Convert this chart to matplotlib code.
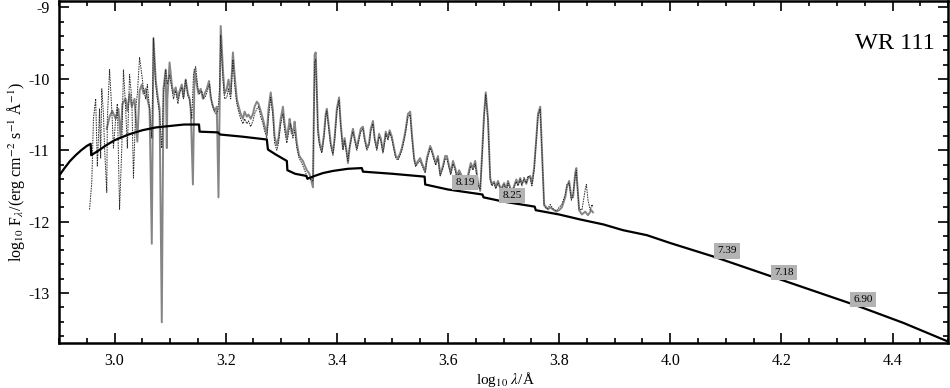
import matplotlib
matplotlib.use("Agg")
import matplotlib.pyplot as plt
from matplotlib.ticker import MultipleLocator

plt.rcParams['font.family'] = ['Liberation Serif', 'DejaVu Serif']
plt.rcParams['mathtext.fontset'] = 'stix'

# ---------------- data ----------------
# observed spectrum (grey solid)
obs_x = [2.986,2.991,2.996,3.002,3.007,3.011,3.014,3.020,3.023,3.027,3.031,3.036,3.041,3.045,3.049,3.052,3.056,3.059,3.063,3.067,
         3.070,3.074,3.077,3.081,3.085,3.088,3.092,3.094,3.095,3.099,3.103,3.106,3.110,3.114,3.117,3.121,3.124,3.128,3.132,3.135,
         3.137,3.141,3.144,3.148,3.151,3.155,3.159,3.162,3.166,3.170,3.173,3.177,3.180,3.184,3.187,3.191,3.195,3.198,3.202,3.205,
         3.209,3.213,3.216,3.220,3.223,3.227,3.231,3.234,3.238,3.241,3.245,3.249,3.252,3.256,3.259,3.263,3.267,3.270,3.274,3.277,
         3.281,3.285,3.288,3.292,3.295,3.299,3.303,3.306,3.310,3.314,3.315,3.319,3.323,3.324,3.328,3.332,3.335,3.339,3.342,3.346,
         3.350,3.353,3.357,3.360,3.362,3.364,3.366,3.369,3.373,3.377,3.380,3.382,3.386,3.389,3.393,3.396,3.400,3.404,3.407,3.411,
         3.414,3.418,3.420,3.423,3.427,3.429,3.432,3.436,3.440,3.443,3.447,3.450,3.454,3.458,3.461,3.465,3.468,3.472,3.476,3.479,
         3.483,3.486,3.488,3.492,3.495,3.499,3.503,3.506,3.510,3.514,3.517,3.521,3.524,3.528,3.532,3.535,3.539,3.542,3.546,3.550,
         3.553,3.559,3.562,3.568,3.571,3.575,3.578,3.582,3.586,3.591,3.595,3.598,3.602,3.605,3.609,3.613,3.616,3.620,3.623,3.627,
         3.631,3.634,3.638,3.641,3.645,3.649,3.652,3.654,3.658,3.661,3.665,3.668,3.672,3.676,3.679,3.683,3.686,3.690,3.694,3.697,
         3.701,3.705,3.708,3.712,3.715,3.719,3.723,3.726,3.730,3.733,3.737,3.741,3.744,3.748,3.751,3.755,3.759,3.762,3.766,3.769,
         3.773,3.777,3.780,3.784,3.789,3.795,3.800,3.805,3.811,3.814,3.818,3.822,3.825,3.829,3.831,3.832,3.836,3.841,3.847,3.852,
         3.858,3.861]
obs_y = [-10.70,-10.53,-10.45,-10.56,-10.42,-10.83,-10.35,-10.28,-10.45,-10.21,-10.39,-10.28,-10.88,-10.17,-10.08,-10.21,-10.14,-10.28,-10.42,-12.31,
         -9.43,-10.01,-10.21,-10.42,-13.41,-10.14,-9.87,-10.97,-10.28,-9.77,-10.08,-10.21,-10.12,-10.28,-10.17,-10.08,-10.26,-10.01,-10.21,-10.28,
         -10.42,-11.48,-9.87,-10.08,-10.21,-10.14,-10.28,-10.21,-10.14,-10.03,-10.26,-10.38,-10.45,-10.39,-11.66,-9.26,-9.87,-10.21,-10.14,-10.01,
         -10.21,-9.63,-9.94,-10.28,-10.38,-10.49,-10.56,-10.46,-10.53,-10.50,-10.56,-10.49,-10.39,-10.32,-10.35,-10.45,-10.56,-10.66,-10.77,-10.42,
         -10.19,-10.45,-10.81,-10.93,-10.83,-10.56,-10.39,-10.63,-10.83,-10.63,-10.56,-10.77,-10.67,-10.60,-10.90,-11.07,-11.11,-11.15,-11.21,-11.28,
         -11.32,-11.39,-11.52,-9.66,-9.63,-10.14,-10.70,-10.90,-11.01,-10.77,-10.49,-10.42,-10.70,-10.90,-11.04,-10.83,-10.42,-10.26,-10.63,-10.97,
         -10.83,-11.04,-11.18,-10.97,-10.77,-10.70,-10.83,-10.97,-10.81,-10.70,-10.67,-10.83,-10.97,-10.90,-10.70,-10.59,-10.83,-10.97,-10.77,-10.83,
         -11.01,-10.86,-10.74,-10.83,-10.72,-10.81,-10.97,-11.08,-11.11,-11.04,-10.97,-10.83,-10.70,-10.49,-10.46,-10.77,-11.11,-11.21,-11.15,-11.11,
         -11.18,-11.29,-11.11,-10.94,-11.00,-11.11,-11.18,-11.08,-11.34,-11.22,-11.08,-11.08,-11.22,-11.32,-11.15,-11.25,-11.36,-11.28,-11.33,-11.39,
         -11.41,-11.43,-11.28,-11.18,-11.25,-11.15,-11.33,-11.46,-11.57,-11.11,-10.49,-10.19,-10.56,-11.39,-11.48,-11.44,-11.52,-11.43,-11.52,-11.52,
         -11.46,-11.55,-11.43,-11.52,-11.59,-11.50,-11.41,-11.48,-11.39,-11.47,-11.41,-11.47,-11.39,-11.36,-11.47,-11.25,-10.83,-10.49,-10.39,-10.97,
         -11.76,-11.80,-11.83,-11.80,-11.83,-11.86,-11.84,-11.80,-11.66,-11.52,-11.43,-11.66,-11.66,-11.32,-11.25,-11.39,-11.84,-11.90,-11.86,-11.91,
         -11.84,-11.87]

# model spectrum (dotted)
mod_x = [2.955,2.959,2.962,2.966,2.969,2.973,2.975,2.977,2.980,2.982,2.986,2.987,2.991,2.995,2.998,3.002,3.005,3.009,3.013,3.016,
         3.020,3.023,3.027,3.031,3.034,3.038,3.041,3.045,3.049,3.052,3.056,3.059,3.063,3.067,3.070,3.074,3.077,3.081,3.085,3.088,
         3.092,3.095,3.099,3.103,3.106,3.110,3.114,3.117,3.121,3.124,3.128,3.132,3.135,3.139,3.142,3.146,3.150,3.153,3.157,3.160,
         3.164,3.168,3.171,3.175,3.178,3.182,3.186,3.189,3.191,3.195,3.198,3.202,3.205,3.209,3.213,3.216,3.220,3.223,3.227,3.231,
         3.234,3.238,3.241,3.245,3.249,3.252,3.256,3.259,3.263,3.267,3.270,3.274,3.277,3.281,3.285,3.288,3.292,3.295,3.299,3.303,
         3.306,3.310,3.314,3.317,3.321,3.324,3.328,3.332,3.335,3.339,3.342,3.346,3.350,3.353,3.357,3.360,3.362,3.364,3.366,
         3.369,3.373,3.377,3.380,3.382,3.386,3.389,3.393,3.396,3.400,3.404,3.407,3.411,3.414,3.418,3.420,3.423,3.427,3.429,3.432,
         3.436,3.440,3.443,3.447,3.450,3.454,3.458,3.461,3.465,3.468,3.472,3.476,3.479,3.483,3.486,3.488,3.492,3.495,3.499,3.503,
         3.506,3.510,3.514,3.517,3.521,3.524,3.528,3.532,3.535,3.539,3.542,3.546,3.550,3.553,3.559,3.562,3.568,3.571,3.575,3.578,
         3.582,3.586,3.591,3.595,3.598,3.602,3.605,3.609,3.613,3.616,3.620,3.623,3.627,3.631,3.634,3.638,3.641,3.645,3.649,3.652,
         3.654,3.658,3.661,3.665,3.668,3.672,3.676,3.679,3.683,3.686,3.690,3.694,3.697,3.701,3.705,3.708,3.712,3.715,3.719,3.723,
         3.726,3.730,3.733,3.737,3.741,3.744,3.748,3.751,3.755,3.759,3.762,3.766,3.769,3.773,3.777,3.780,3.784,3.789,3.795,3.800,
         3.805,3.811,3.814,3.818,3.822,3.825,3.829,3.831,3.832,3.836,3.841,3.847,3.849,3.852,3.856,3.859,3.861]
mod_y = [-11.83,-11.45,-10.56,-10.28,-11.23,-10.42,-11.11,-10.14,-10.49,-10.97,-11.59,-10.56,-9.87,-10.43,-10.97,-10.56,-10.35,-11.83,-10.97,-9.87,
         -10.42,-10.97,-9.94,-10.28,-11.39,-10.42,-10.21,-9.70,-9.94,-10.14,-10.28,-10.08,-10.42,-10.83,-9.43,-10.08,-10.28,-10.49,-10.97,-10.21,
         -9.87,-10.08,-9.94,-10.14,-10.28,-10.17,-10.35,-10.21,-10.12,-10.28,-10.01,-10.24,-10.28,-10.56,-9.94,-9.83,-10.14,-10.21,-10.17,-10.28,
         -10.24,-10.14,-10.08,-10.35,-10.42,-10.49,-10.45,-10.14,-9.39,-10.01,-10.28,-10.26,-10.14,-10.28,-9.73,-10.08,-10.35,-10.45,-10.56,-10.63,
         -10.56,-10.63,-10.59,-10.67,-10.59,-10.49,-10.42,-10.39,-10.53,-10.63,-10.73,-10.83,-10.56,-10.26,-10.53,-10.90,-11.00,-10.90,-10.63,-10.49,
         -10.72,-10.90,-10.72,-10.63,-10.83,-10.72,-10.97,-11.11,-11.15,-11.22,-11.28,-11.36,-11.39,-11.41,-11.43,-9.77,-9.73,-10.21,-10.77,
         -10.94,-11.04,-10.81,-10.53,-10.45,-10.74,-10.94,-11.07,-10.86,-10.46,-10.30,-10.67,-11.00,-10.86,-11.07,-11.15,-10.94,-10.81,-10.74,-10.86,
         -11.00,-10.85,-10.74,-10.70,-10.86,-11.00,-10.93,-10.74,-10.63,-10.86,-11.00,-10.81,-10.86,-11.04,-10.90,-10.77,-10.86,-10.75,-10.85,-11.00,
         -11.11,-11.14,-11.07,-11.00,-10.86,-10.74,-10.53,-10.50,-10.81,-11.14,-11.23,-11.18,-11.15,-11.21,-11.32,-11.15,-10.97,-11.03,-11.14,-11.21,
         -11.12,-11.36,-11.25,-11.12,-11.12,-11.25,-11.34,-11.19,-11.28,-11.39,-11.32,-11.36,-11.41,-11.43,-11.46,-11.32,-11.22,-11.28,-11.19,-11.36,
         -11.48,-11.55,-11.15,-10.53,-10.22,-10.59,-11.41,-11.50,-11.46,-11.54,-11.46,-11.54,-11.55,-11.48,-11.57,-11.46,-11.55,-11.61,-11.52,-11.44,
         -11.50,-11.41,-11.50,-11.38,-11.46,-11.36,-11.39,-11.50,-11.28,-10.86,-10.53,-10.42,-11.00,-11.78,-11.82,-11.81,-11.76,-11.82,-11.85,-11.80,
         -11.76,-11.62,-11.48,-11.46,-11.70,-11.62,-11.36,-11.28,-11.43,-11.82,-11.84,-11.55,-11.48,-11.70,-11.84,-11.76,-11.80]

# continuum (black)
cont_x = [2.900,2.910,2.920,2.930,2.940,2.950,2.957,2.958,2.970,2.985,3.000,3.025,3.050,3.075,3.100,3.125,3.152,3.153,3.186,3.190,
          3.230,3.274,3.276,3.290,3.310,3.311,3.325,3.345,3.347,3.360,3.375,3.393,3.420,3.445,3.447,3.500,3.558,3.559,3.600,3.662,
          3.664,3.700,3.756,3.758,3.800,3.838,3.880,3.915,3.958,4.000,4.078,4.198,4.337,4.420,4.500]
cont_y = [-11.36,-11.25,-11.15,-11.07,-11.00,-10.94,-10.91,-11.07,-11.01,-10.93,-10.86,-10.78,-10.72,-10.68,-10.66,-10.64,-10.64,-10.74,-10.75,-10.78,
          -10.81,-10.85,-10.99,-11.06,-11.15,-11.28,-11.33,-11.36,-11.40,-11.36,-11.32,-11.29,-11.26,-11.25,-11.30,-11.33,-11.37,-11.48,-11.55,-11.62,
          -11.66,-11.72,-11.79,-11.84,-11.90,-11.97,-12.04,-12.12,-12.19,-12.30,-12.49,-12.81,-13.18,-13.42,-13.68]

# labelled points on the continuum
lab_text = ["8.19", "8.25", "7.39", "7.18", "6.90"]
lab_x = [3.631, 3.715, 4.102, 4.205, 4.347]
lab_y = [-11.45, -11.63, -12.41, -12.71, -13.09]

star_name = "WR 111"

# ---------------- plot ----------------
fig = plt.figure(figsize=(9.5, 3.88), dpi=100)
ax = fig.add_axes([0.0621, 0.116, 0.9359, 0.8814])

ax.plot(obs_x, obs_y, color='#858585', lw=1.4, zorder=2)
ax.plot(mod_x, mod_y, color='#2a2a2a', lw=0.7, linestyle=(0, (1.6, 1.0)), zorder=3)
ax.plot(cont_x, cont_y, color='black', lw=1.6, zorder=4)

for t, x, y in zip(lab_text, lab_x, lab_y):
    ax.text(x, y, t, fontsize=8, ha='center', va='center', zorder=5,
            bbox=dict(boxstyle='square,pad=0.28', facecolor='#b3b3b3', edgecolor='none'))

ax.text(0.985, 0.875, star_name, transform=ax.transAxes, fontsize=17.5,
        ha='right', va='center')

ax.set_xlim(2.9, 4.5)
ax.set_ylim(-13.7, -8.91)
ax.xaxis.set_minor_locator(MultipleLocator(0.05))
ax.yaxis.set_minor_locator(MultipleLocator(0.2))
ax.set_yticks([-13, -12, -11, -10, -9])
ax.set_yticklabels(['-13', '-12', '-11', '-10', '-9'])
ax.set_xticks([3.0, 3.2, 3.4, 3.6, 3.8, 4.0, 4.2, 4.4])
ax.set_xticklabels(['3.0', '3.2', '3.4', '3.6', '3.8', '4.0', '4.2', '4.4'])

ax.tick_params(which='both', direction='in', top=True, right=True, labelsize=11.5, width=1.2)
ax.tick_params(which='major', length=7, pad=7)
ax.tick_params(which='minor', length=3.8)
for s in ax.spines.values():
    s.set_linewidth(1.8)

ax.set_xlabel('log$_{10}$ $\\lambda$/Å', fontsize=11, va='center')
ax.xaxis.set_label_coords(0.502, -0.108)
ax.set_ylabel('log$_{10}$ F$_\\lambda$/(erg cm$^{-2}$ s$^{-1}$ Å$^{-1}$)', fontsize=11.5, labelpad=1)

fig.savefig('out.png', dpi=100)
